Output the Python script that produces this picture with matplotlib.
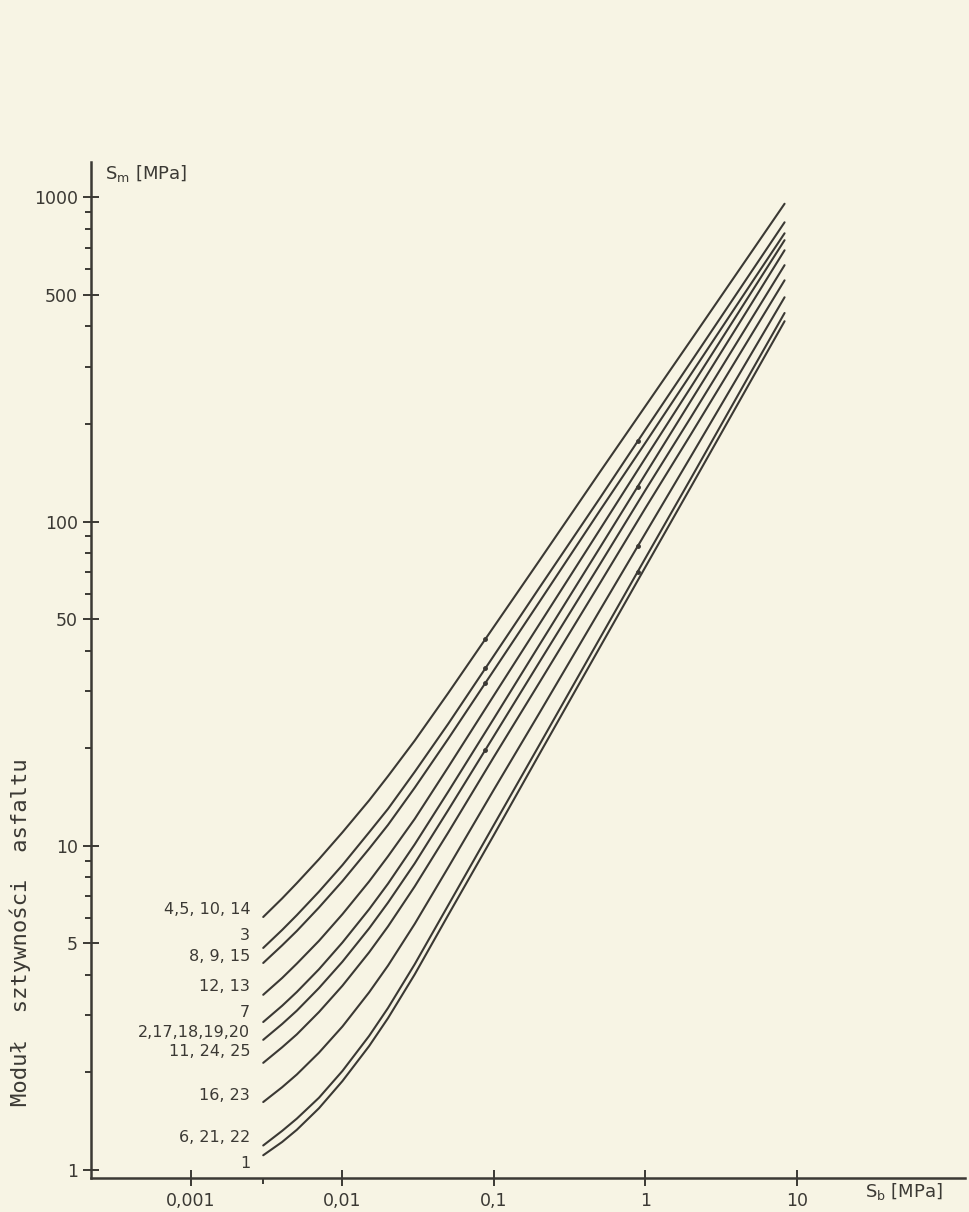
import matplotlib.pyplot as plt
from matplotlib.ticker import FixedLocator, NullFormatter

# S_b [MPa] at which each curve was read
sb = [0.003, 0.004, 0.005, 0.007, 0.01, 0.015, 0.02, 0.03, 0.05,
      0.1, 0.2, 0.5, 1, 2, 5, 8.3]

# S_m [MPa] for each curve, top to bottom
sm_4_5_10_14 = [6.03, 6.88, 7.67, 9.09, 11.0, 13.8, 16.4, 21.1, 29.6,
                47.4, 75.9, 142, 227, 363, 677, 956]
sm_3 = [4.84, 5.50, 6.11, 7.22, 8.72, 11.0, 13.0, 16.9, 23.8,
        38.6, 62.6, 118, 192, 311, 589, 838]
sm_8_9_15 = [4.35, 4.93, 5.46, 6.45, 7.78, 9.79, 11.6, 15.1, 21.4,
             34.8, 56.6, 108, 175, 285, 543, 775]
sm_12_13 = [3.47, 3.91, 4.33, 5.09, 6.15, 7.76, 9.28, 12.1, 17.5,
            29.1, 48.3, 94.4, 157, 260, 509, 738]
sm_7 = [2.86, 3.21, 3.54, 4.16, 5.03, 6.37, 7.64, 10.1, 14.7,
        24.7, 41.7, 83.0, 140, 236, 469, 687]
sm_2_17_18_19_20 = [2.52, 2.82, 3.10, 3.64, 4.39, 5.56, 6.68, 8.82, 12.9,
                    21.8, 36.9, 73.7, 125, 210, 421, 618]
sm_11_24_25 = [2.14, 2.39, 2.62, 3.07, 3.70, 4.69, 5.64, 7.49, 11.0,
               18.8, 31.9, 64.4, 110, 186, 376, 555]
sm_16_23 = [1.62, 1.80, 1.97, 2.30, 2.77, 3.53, 4.27, 5.74, 8.58,
            14.9, 25.7, 53.2, 92.0, 159, 329, 492]
sm_6_21_22 = [1.19, 1.32, 1.44, 1.67, 2.02, 2.59, 3.16, 4.31, 6.56,
              11.6, 20.5, 43.6, 77.1, 136, 290, 440]
sm_1 = [1.11, 1.22, 1.33, 1.55, 1.88, 2.41, 2.94, 4.01, 6.12,
        10.8, 19.2, 40.9, 72.4, 128, 273, 415]

curves = [sm_4_5_10_14, sm_3, sm_8_9_15, sm_12_13, sm_7, sm_2_17_18_19_20,
          sm_11_24_25, sm_16_23, sm_6_21_22, sm_1]
labels = ['4,5, 10, 14', '3', '8, 9, 15', '12, 13', '7', '2,17,18,19,20',
          '11, 24, 25', '16, 23', '6, 21, 22', '1']
# label offset above the curve start, pixels
label_dy = [7, 12, 6, 8, 10, 7, 11, 7, 8, -8]

# small measured points marked on the curves
dot_sb = [0.088, 0.088, 0.088, 0.088, 0.89, 0.89, 0.89, 0.89]
dot_sm = [43.4, 35.3, 31.8, 19.8, 177, 128, 83.9, 70]

ink = '#3b3934'
paper = '#f7f4e4'

dpi = 100
fig = plt.figure(figsize=(970 / dpi, 1212 / dpi), dpi=dpi, facecolor=paper)
ax = fig.add_axes([0.0938, 0.028, 0.901, 0.838])
ax.set_facecolor(paper)

for sm in curves:
    ax.plot(sb, sm, color=ink, lw=1.5, solid_capstyle='round')
ax.plot(dot_sb, dot_sm, 'o', color=ink, ms=2.5)

for sm, lab, dy in zip(curves, labels, label_dy):
    ax.annotate(lab, (sb[0], sm[0]), xytext=(-13, dy), textcoords='offset pixels',
                ha='right', va='center', fontsize=11.5, color=ink)

ax.set_xscale('log')
ax.set_yscale('log')
ax.set_xlim(10 ** -3.66, 10 ** 2.11)
ax.set_ylim(10 ** -0.025, 10 ** 3.108)

for s in ['top', 'right']:
    ax.spines[s].set_visible(False)
for s in ['left', 'bottom']:
    ax.spines[s].set_color(ink)
    ax.spines[s].set_linewidth(1.8)

ax.yaxis.set_major_locator(FixedLocator([1, 5, 10, 50, 100, 500, 1000]))
ax.set_yticklabels(['1', '5', '10', '50', '100', '500', '1000'])
ax.yaxis.set_minor_locator(FixedLocator(
    [m * d for d in (1, 10, 100) for m in (2, 3, 4, 6, 7, 8, 9)]))
ax.yaxis.set_minor_formatter(NullFormatter())

ax.xaxis.set_major_locator(FixedLocator([0.001, 0.01, 0.1, 1, 10]))
ax.set_xticklabels(['0,001', '0,01', '0,1', '1', '10'])
ax.xaxis.set_minor_locator(FixedLocator([0.003]))
ax.xaxis.set_minor_formatter(NullFormatter())

ax.tick_params(which='major', direction='inout', length=12, width=1.4,
               colors=ink, labelsize=12.5)
ax.tick_params(axis='x', which='major', pad=4)
ax.tick_params(which='minor', direction='out', length=4, width=1.4, colors=ink)

fig.text(105 / 970, 1 - 173 / 1212, r'$\mathregular{S_m}$ [MPa]',
         fontsize=13, color=ink, va='center', ha='left')
fig.text(865 / 970, 1 - 1192 / 1212, r'$\mathregular{S_b}$ [MPa]',
         fontsize=13, color=ink, va='center', ha='left')
fig.text(20 / 970, 1 - 932 / 1212, 'Moduł  sztywności  asfaltu',
         family='DejaVu Sans Mono', fontsize=16, color=ink,
         rotation=90, va='center', ha='center')

fig.savefig('out.png', dpi=dpi, facecolor=paper)
